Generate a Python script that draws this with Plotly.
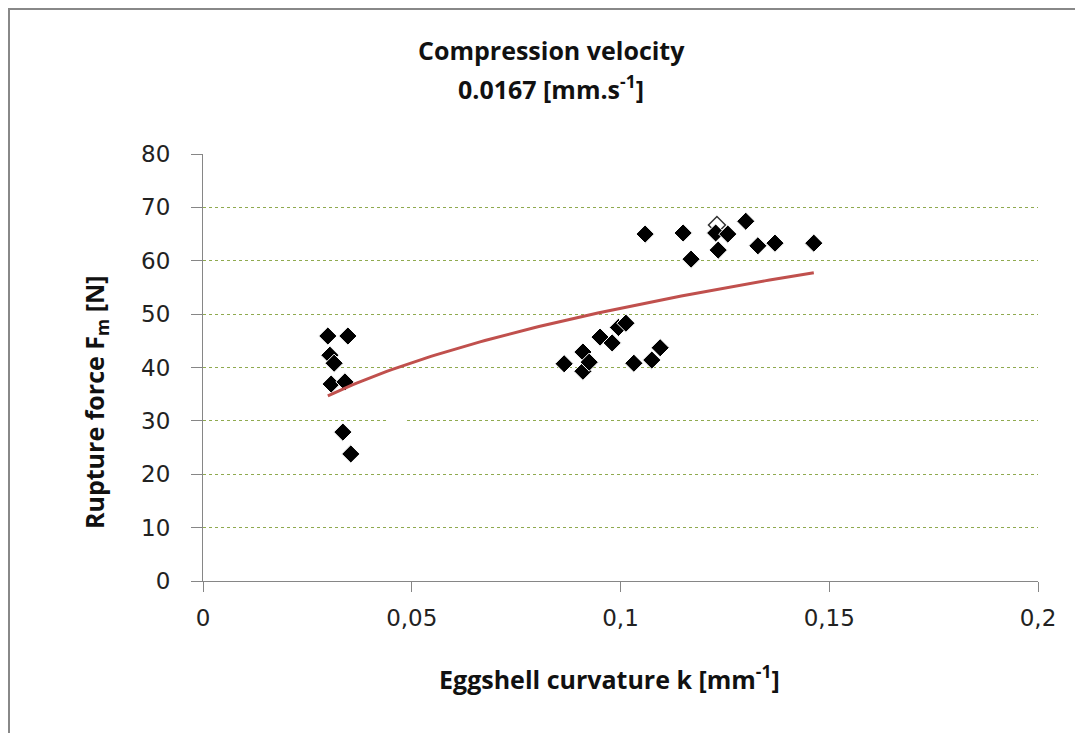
import numpy as np
import plotly.graph_objects as go

# curvature k [mm^-1] and rupture force Fm [N]
k_vals = [0.0299, 0.0347, 0.0304, 0.0314, 0.0307, 0.0340, 0.0335, 0.0354,
          0.0865, 0.0910, 0.0910, 0.0925, 0.0951, 0.0980, 0.0995, 0.1013, 0.1032, 0.1075, 0.1095,
          0.1059, 0.1150, 0.1169, 0.1228, 0.1234, 0.1257, 0.1300, 0.1329, 0.1370, 0.1463]
f_vals = [45.9, 45.9, 42.3, 40.8, 36.9, 37.3, 27.9, 23.8,
          40.7, 42.9, 39.3, 41.0, 45.7, 44.6, 47.5, 48.3, 40.8, 41.4, 43.7,
          65.0, 65.2, 60.3, 65.2, 62.0, 65.0, 67.4, 62.8, 63.3, 63.3]
hollow_k = [0.1231]
hollow_f = [66.7]
white_k = [0.0465]
white_f = [30.0]

x_ticks = [0, 0.05, 0.1, 0.15, 0.2]
x_tick_text = ["0", "0,05", "0,1", "0,15", "0,2"]
y_ticks = [0, 10, 20, 30, 40, 50, 60, 70, 80]

# power trendline fitted to the data (as the spreadsheet's power trendline)
kx = np.array(k_vals)
fy = np.array(f_vals)
b, lna = np.polyfit(np.log(kx), np.log(fy), 1)
a = np.exp(lna)
xt = np.linspace(kx.min(), kx.max(), 100)
yt = a * xt ** b

font_family = "Open Sans, Noto Sans, Liberation Sans, sans-serif"
tick_family = "DejaVu Sans, Open Sans, sans-serif"

# page has an 8px body margin; figure sized so plot area lands where the reference has it
W, H = 1075, 725
L, T, PW, PH = 195, 146, 835, 427
R = W - L - PW
B = H - T - PH


def px(fx):
    return (fx - L) / PW


def py(fy_):
    return (T + PH - fy_) / PH


fig = go.Figure()
fig.add_trace(go.Scatter(x=white_k, y=white_f, mode="markers",
                         marker=dict(symbol="diamond", size=14, color="white",
                                     line=dict(color="white", width=1)),
                         showlegend=False, hoverinfo="skip"))
fig.add_trace(go.Scatter(x=hollow_k, y=hollow_f, mode="markers",
                         marker=dict(symbol="diamond", size=13, color="white",
                                     line=dict(color="#333333", width=1.5)),
                         showlegend=False, hoverinfo="skip"))
fig.add_trace(go.Scatter(x=k_vals, y=f_vals, mode="markers",
                         marker=dict(symbol="diamond", size=14, color="black",
                                     line=dict(color="white", width=1)),
                         showlegend=False))
fig.add_trace(go.Scatter(x=xt, y=yt, mode="lines",
                         line=dict(color="#C0504D", width=3),
                         showlegend=False, hoverinfo="skip"))

title_font = dict(family=font_family, size=25, color="#111111")
fig.update_layout(
    width=W, height=H,
    paper_bgcolor="white", plot_bgcolor="white",
    margin=dict(l=L, r=R, t=T, b=B, pad=0),
    font=dict(family=font_family, color="#222222"),
    annotations=[
        dict(text="<b>Compression velocity</b>", xref="paper", yref="paper",
             x=px(543), y=py(42), xanchor="center", yanchor="middle",
             showarrow=False, font=title_font),
        dict(text="<b>0.0167 [mm.s<sup>-1</sup>]</b>", xref="paper", yref="paper",
             x=px(543), y=py(79), xanchor="center", yanchor="middle",
             showarrow=False, font=title_font),
        dict(text="<b>Eggshell curvature k [mm<sup>-1</sup>]</b>", xref="paper", yref="paper",
             x=px(601), y=py(669), xanchor="center", yanchor="middle",
             showarrow=False, font=title_font),
        dict(text="<b>Rupture force F<sub>m</sub> [N]</b>", xref="paper", yref="paper",
             x=px(87), y=py(394), xanchor="center", yanchor="middle", textangle=-90,
             showarrow=False, font=title_font),
    ],
    shapes=[
        dict(type="line", xref="paper", yref="paper", x0=px(0), x1=px(W + 5),
             y0=py(0.5), y1=py(0.5), line=dict(color="#888888", width=3)),
        dict(type="line", xref="paper", yref="paper", x0=px(0.5), x1=px(0.5),
             y0=py(-1), y1=py(H + 5), line=dict(color="#888888", width=3)),
    ],
)
fig.update_xaxes(range=[0, 0.2], tickvals=x_ticks, ticktext=x_tick_text,
                 showgrid=False, zeroline=False, showline=True,
                 linecolor="#868686", linewidth=1,
                 ticks="outside", ticklen=10, tickcolor="#868686",
                 ticklabelstandoff=6,
                 tickfont=dict(family=tick_family, size=23, color="#222222"))
fig.update_yaxes(range=[0, 80], tickvals=y_ticks,
                 showgrid=True, gridcolor="#8FAA4F", gridwidth=1, griddash="dot",
                 zeroline=False, showline=True,
                 linecolor="#868686", linewidth=1,
                 ticks="outside", ticklen=11, tickcolor="#868686",
                 ticklabelstandoff=16,
                 tickfont=dict(family=tick_family, size=23, color="#222222"))

fig.write_html("out.html")
